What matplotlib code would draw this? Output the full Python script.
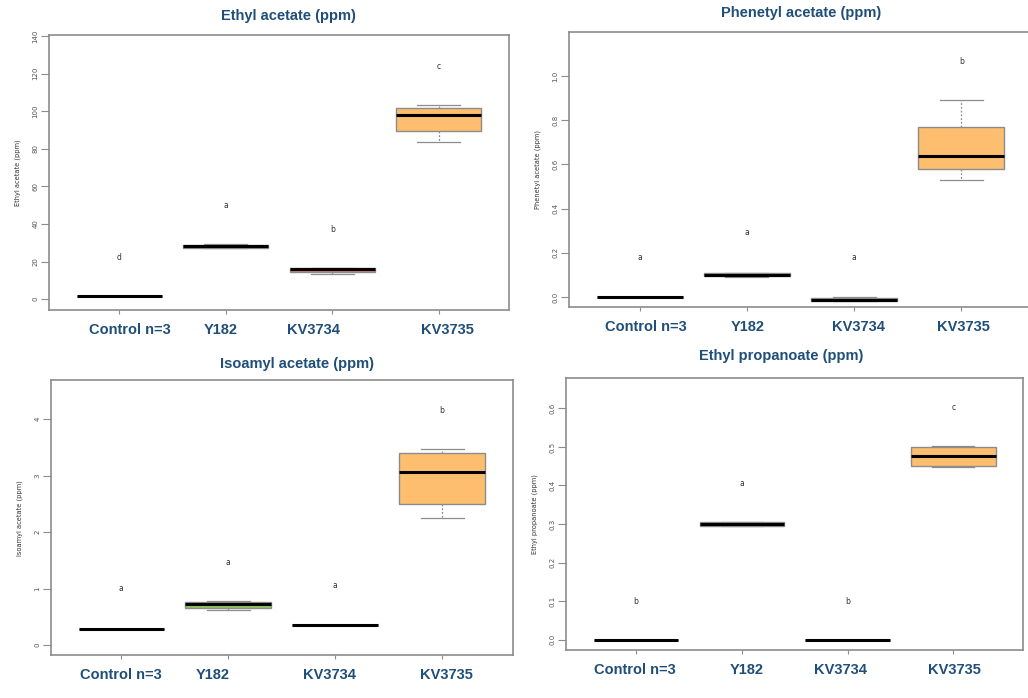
import numpy as np
import matplotlib
matplotlib.use("Agg")
import matplotlib.pyplot as plt

plt.rcParams['font.family'] = ['Liberation Sans', 'DejaVu Sans']

groups = ["Control n=3", "Y182", "KV3734", "KV3735"]
box_colors = ["#e6e6e6", "#8fc460", "#de7474", "#fdbf6f"]

# five-number summaries per strain: (low whisker, q1, median, q3, high whisker)
ethyl_acetate = [(1.5, 1.5, 1.5, 1.5, 1.5),
                 (27.0, 27.2, 28.0, 28.8, 29.5),
                 (13.5, 14.5, 16.0, 16.5, 16.5),
                 (83.5, 89.5, 98.0, 101.8, 103.0)]
phenetyl_acetate = [(0.0, 0.0, 0.0, 0.0, 0.0),
                    (0.090, 0.093, 0.100, 0.107, 0.110),
                    (-0.020, -0.018, -0.012, -0.003, 0.0),
                    (0.527, 0.578, 0.638, 0.768, 0.889)]
isoamyl_acetate = [(0.29, 0.29, 0.29, 0.29, 0.29),
                   (0.63, 0.66, 0.72, 0.77, 0.785),
                   (0.355, 0.355, 0.355, 0.355, 0.355),
                   (2.25, 2.50, 3.06, 3.40, 3.47)]
ethyl_propanoate = [(0.0, 0.0, 0.0, 0.0, 0.0),
                    (0.294, 0.295, 0.300, 0.305, 0.306),
                    (0.0, 0.0, 0.0, 0.0, 0.0),
                    (0.449, 0.450, 0.476, 0.499, 0.502)]

# significance letters and the height they sit at
ea_letters = ["d", "a", "b", "c"]
ea_letter_y = [22, 50, 37, 124]
pa_letters = ["a", "a", "a", "b"]
pa_letter_y = [0.18, 0.29, 0.18, 1.065]
ia_letters = ["a", "a", "a", "b"]
ia_letter_y = [1.0, 1.47, 1.05, 4.15]
ep_letters = ["b", "a", "b", "c"]
ep_letter_y = [0.10, 0.405, 0.10, 0.603]

W, H = 1028, 698
fig = plt.figure(figsize=(W / 100, H / 100), dpi=100)
blue = "#1f4e79"
grey = "#8c8c8c"


def px_axes(l, t, r, b):
    return fig.add_axes([l / W, 1 - b / H, (r - l) / W, (b - t) / H])


def panel(rect, title, title_xy, summary, letters, letter_y, ylim, yticks,
          yfmt, label_shift):
    ax = px_axes(*rect)
    stats = [dict(whislo=s[0], q1=s[1], med=s[2], q3=s[3], whishi=s[4],
                  fliers=[]) for s in summary]
    pos = np.arange(1, len(groups) + 1)
    bp = ax.bxp(stats, positions=pos, widths=0.8, patch_artist=True,
                showfliers=False,
                boxprops=dict(edgecolor=grey, linewidth=1.0),
                medianprops=dict(color="black", linewidth=2.2),
                whiskerprops=dict(color=grey, linewidth=0.9,
                                  linestyle=(0, (1.5, 1.5))),
                capprops=dict(color=grey, linewidth=0.9))
    for patch, c in zip(bp["boxes"], box_colors):
        patch.set_facecolor(c)

    for x, lab, y in zip(pos, letters, letter_y):
        ax.text(x, y, lab, ha="center", va="center", fontsize=5.5,
                color="#333333", family="DejaVu Sans")

    ax.set_xlim(0.34, 4.66)
    ax.set_ylim(*ylim)
    ax.set_yticks(yticks)
    ax.set_yticklabels([yfmt % v for v in yticks])
    ax.set_xticks(pos)
    ax.set_xticklabels([])
    ax.tick_params(axis="y", length=6, width=0.8, color=grey, pad=1.5,
                   labelsize=5, labelcolor="#555555", labelrotation=90)
    ax.tick_params(axis="x", length=3, width=0.8, color=grey)
    for lab in ax.get_yticklabels():
        lab.set_family("DejaVu Sans")
        lab.set_va("center")
    for sp in ax.spines.values():
        sp.set_color(grey)
        sp.set_linewidth(1.2)

    for x, name, dx in zip(pos, groups, label_shift):
        ax.annotate(name, xy=(x + dx, 0), xycoords=("data", "axes fraction"),
                    xytext=(0, -14.5), textcoords="offset points",
                    ha="center", va="center", fontsize=10.5,
                    fontweight="bold", color=blue)

    ax.set_ylabel(title, fontsize=4.8, color="#333333", family="DejaVu Sans")
    ax.yaxis.set_label_coords(-28 / (rect[2] - rect[0]) * 1.0, 0.5)

    fig.text(title_xy[0] / W, 1 - title_xy[1] / H, title, ha="center",
             va="center", fontsize=10.5, fontweight="bold", color=blue)
    return ax


panel((49, 35, 509, 310), "Ethyl acetate (ppm)", (288, 16), ethyl_acetate,
      ea_letters, ea_letter_y, (-5.8, 140.5), np.arange(0, 141, 20), "%d",
      [0.10, -0.05, -0.18, 0.08])
panel((569, 31.7, 1032, 307.3), "Phenetyl acetate (ppm)", (801, 13),
      phenetyl_acetate, pa_letters, pa_letter_y, (-0.047, 1.2),
      np.arange(0, 1.01, 0.2), "%.1f", [0.056, 0.01, 0.04, 0.02])
panel((50.7, 380, 512.7, 655.3), "Isoamyl acetate (ppm)", (297, 364),
      isoamyl_acetate, ia_letters, ia_letter_y, (-0.18, 4.69),
      np.arange(0, 5, 1), "%d", [0.0, -0.146, -0.056, 0.04])
panel((566.3, 378, 1023, 650), "Ethyl propanoate (ppm)", (781, 356),
      ethyl_propanoate, ep_letters, ep_letter_y, (-0.027, 0.679),
      np.arange(0, 0.61, 0.1), "%.1f", [-0.01, 0.044, -0.063, 0.013])

fig.savefig("out.png", dpi=100)
